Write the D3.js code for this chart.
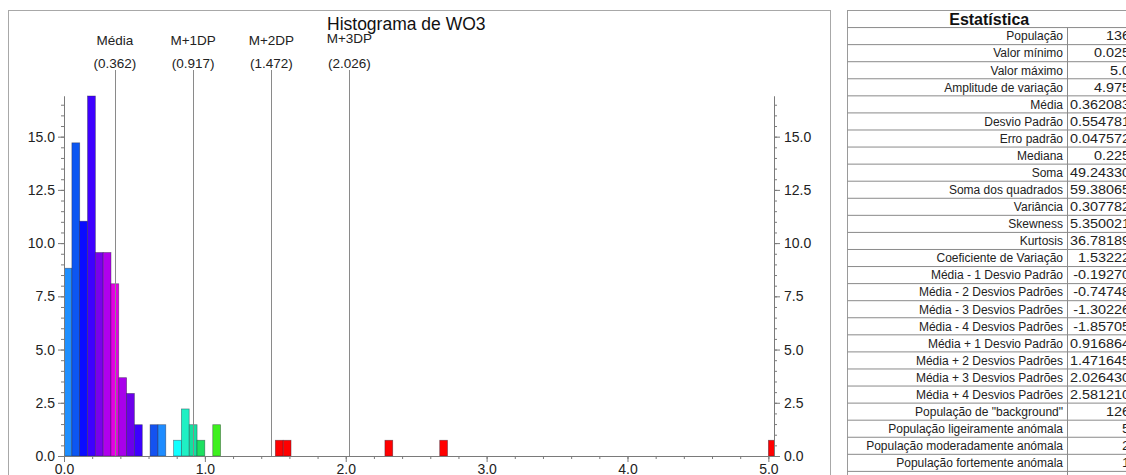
<!DOCTYPE html>
<html>
<head>
<meta charset="utf-8">
<script src="https://cdn.jsdelivr.net/npm/d3@7"></script>
<style>
  body { margin: 0; background: #fff; }
  svg { display: block; font-family: "Liberation Sans", Arial, sans-serif; }
</style>
</head>
<body>
<svg id="chart" width="1126" height="475"></svg>
<script>
// Histogram bins of WO3: lower edge of each bin and its frequency (%)
const binWidth = 0.0556;
const binStart = [0.000, 0.056, 0.111, 0.167, 0.222, 0.278, 0.333, 0.389, 0.444, 0.500,
                  0.611, 0.667, 0.778, 0.833, 0.889, 0.944, 1.056,
                  1.500, 1.556, 2.278, 2.667, 5.000];
const binFreq  = [8.82, 14.71, 11.03, 16.91, 9.56, 9.56, 8.09, 3.68, 2.94, 1.47,
                  1.47, 1.47, 0.74, 2.21, 1.47, 0.74, 1.47,
                  0.74, 0.74, 0.74, 0.74, 0.74];
const binColor = ["#1e8fff", "#0c56f2", "#0a0cff", "#3e00ff", "#7a00ec", "#b000ec", "#e400e4", "#a800ea", "#6c00ea", "#3c00ff",
                  "#1452f0", "#1e8cff", "#10ffff", "#1ff0c4", "#14e0a0", "#1ee060", "#3ef01e",
                  "#ff0000", "#ff0000", "#ff0000", "#ff0000", "#ff0000"];

// Reference lines: mean and mean + n standard deviations
const refNames  = ["Média", "M+1DP", "M+2DP", "M+3DP"];
const refValues = [0.362, 0.917, 1.472, 2.026];

// Axis ticks
const xMajor = [0, 1, 2, 3, 4, 5];
const yMajor = [0, 2.5, 5, 7.5, 10, 12.5, 15];

// Statistics table
const statNames = ["População", "Valor mínimo", "Valor máximo", "Amplitude de variação", "Média",
  "Desvio Padrão", "Erro padrão", "Mediana", "Soma", "Soma dos quadrados", "Variância", "Skewness",
  "Kurtosis", "Coeficiente de Variação", "Média - 1 Desvio Padrão", "Média - 2 Desvios Padrões",
  "Média - 3 Desvios Padrões", "Média - 4 Desvios Padrões", "Média + 1 Desvio Padrão",
  "Média + 2 Desvios Padrões", "Média + 3 Desvios Padrões", "Média + 4 Desvios Padrões",
  "População de \"background\"", "População ligeiramente anómala", "População moderadamente anómala",
  "População fortemente anómala", "População extremamente anómala"];
const statValues = ["136", "0.025", "5.0", "4.975", "0.362083", "0.554781", "0.047572", "0.225",
  "49.24330", "59.38065", "0.307782", "5.350021", "36.78189", "1.53222", "-0.19270", "-0.74748",
  "-1.30226", "-1.85705", "0.916864", "1.471645", "2.026430", "2.581210", "126", "5", "2", "1", "2"];

const svg = d3.select("#chart");

// ---- chart panel ----
svg.append("rect").attr("x", 8.5).attr("y", 10.5).attr("width", 822).attr("height", 480)
  .attr("fill", "#fff").attr("stroke", "#a8a8a8");

svg.append("text").attr("x", 327).attr("y", 29.5).attr("font-size", 17.5).attr("fill", "#111")
  .text("Histograma de WO3");

const x = d3.scaleLinear().domain([0, 5.04]).range([64, 774]);
const y = d3.scaleLinear().domain([0, d3.max(binFreq)]).range([456, 96]);

const plot = svg.append("g");
plot.append("clipPath").attr("id", "plotClip")
  .append("rect").attr("x", x(0)).attr("y", 0).attr("width", x(5.04) - x(0)).attr("height", y(0));

// bars
plot.append("g").attr("clip-path", "url(#plotClip)")
  .selectAll("rect").data(binStart).join("rect")
  .attr("x", (d) => x(d))
  .attr("width", (d) => x(d + binWidth) - x(d))
  .attr("y", (d, i) => y(binFreq[i]))
  .attr("height", (d, i) => y(0) - y(binFreq[i]))
  .attr("fill", (d, i) => binColor[i])
  .attr("stroke", "rgba(40,40,60,0.55)")
  .attr("stroke-width", 0.7);

// reference lines and labels
const refs = plot.append("g").selectAll("g").data(refValues).join("g");
refs.append("line")
  .attr("x1", (d) => Math.round(x(d)) + 0.5).attr("x2", (d) => Math.round(x(d)) + 0.5)
  .attr("y1", 70).attr("y2", y(0))
  .attr("stroke", "#8a8a8a").attr("stroke-width", 1);
refs.append("text")
  .attr("x", (d) => x(d)).attr("y", (d, i) => i === 3 ? 43 : 45)
  .attr("text-anchor", "middle").attr("font-size", 13.5).attr("fill", "#222")
  .text((d, i) => refNames[i]);
refs.append("text")
  .attr("x", (d) => x(d)).attr("y", 68)
  .attr("text-anchor", "middle").attr("font-size", 13.5).attr("fill", "#222")
  .text((d) => "(" + d3.format(".3f")(d) + ")");

// axes
const axisColor = "#7a7a7a";
const fmt = d3.format(".1f");

function styleAxis(g) {
  g.select(".domain").attr("stroke", axisColor);
  g.selectAll(".tick line").attr("stroke", axisColor);
  g.selectAll(".tick text").attr("fill", "#222").attr("font-size", 14)
    .attr("font-family", "'Liberation Sans', Arial, sans-serif");
}

const yMinor = d3.range(0, d3.max(binFreq), 0.5);
const xMinor = d3.range(0, 5.01, 0.2);

// left axis
const gl = svg.append("g").attr("transform", `translate(${x(0)},0)`);
gl.append("g").call(d3.axisLeft(y).tickValues(yMinor).tickSize(3).tickFormat("").tickSizeOuter(0)).call(styleAxis);
gl.append("g").call(d3.axisLeft(y).tickValues(yMajor).tickSize(6).tickPadding(3).tickFormat(fmt).tickSizeOuter(0)).call(styleAxis);

// right axis
const gr = svg.append("g").attr("transform", `translate(${x(5.04)},0)`);
gr.append("g").call(d3.axisRight(y).tickValues(yMinor).tickSize(3).tickFormat("").tickSizeOuter(0)).call(styleAxis);
gr.append("g").call(d3.axisRight(y).tickValues(yMajor).tickSize(6).tickPadding(4).tickFormat(fmt).tickSizeOuter(0)).call(styleAxis);

// bottom axis
const gb = svg.append("g").attr("transform", `translate(0,${y(0)})`);
gb.append("g").call(d3.axisBottom(x).tickValues(xMinor).tickSize(3).tickFormat("").tickSizeOuter(0)).call(styleAxis);
gb.append("g").call(d3.axisBottom(x).tickValues(xMajor).tickSize(6).tickPadding(2).tickFormat(fmt).tickSizeOuter(0)).call(styleAxis);

// ---- statistics table ----
const tX = 847.5, tR = 1131, colX = 1067.5, tTop = 10.5, rowH = 17.07;
const nRows = statNames.length + 1;
const table = svg.append("g");
table.append("rect").attr("x", tX).attr("y", tTop).attr("width", tR - tX)
  .attr("height", rowH * nRows).attr("fill", "#fff").attr("stroke", "#9a9a9a");
table.append("text").attr("x", (tX + tR) / 2).attr("y", tTop + 14.5)
  .attr("text-anchor", "middle").attr("font-size", 16).attr("font-weight", "bold").attr("fill", "#111")
  .text("Estatística");
table.append("line").attr("x1", colX).attr("x2", colX)
  .attr("y1", tTop + rowH).attr("y2", tTop + rowH * nRows).attr("stroke", "#8a8a8a");

const rows = table.selectAll("g.row").data(statNames).join("g").attr("class", "row")
  .attr("transform", (d, i) => `translate(0,${tTop + rowH * (i + 1)})`);
rows.append("line").attr("x1", tX).attr("x2", tR).attr("y1", 0).attr("y2", 0)
  .attr("stroke", "#8a8a8a");
rows.append("text").attr("x", colX - 4.5).attr("y", rowH / 2 + 4.3)
  .attr("text-anchor", "end").attr("font-size", 12).attr("fill", "#222")
  .text((d) => d);
rows.append("text")
  .attr("transform", `translate(${tR - 1},${rowH / 2 + 4.3}) scale(1.2,1)`)
  .attr("text-anchor", "end").attr("font-size", 12).attr("fill", "#222")
  .text((d, i) => statValues[i]);
</script>
</body>
</html>
